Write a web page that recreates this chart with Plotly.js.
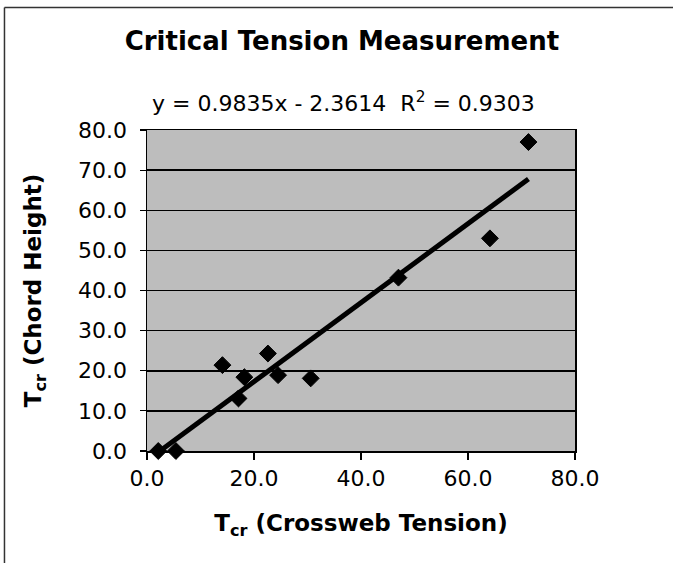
<!DOCTYPE html>
<html>
<head>
<meta charset="utf-8">
<script src="https://cdn.plot.ly/plotly-3.0.1.min.js"></script>
<style>
  html, body { margin: 0; padding: 0; background: #ffffff; }
  #chart { width: 673px; height: 563px; }
</style>
</head>
<body>
<div id="chart"></div>
<script>
// Data
const crosswebTension = [2.1, 5.4, 14.1, 17.1, 18.2, 22.6, 24.5, 30.6, 47.0, 64.1, 71.3];
const chordHeight     = [0.0, 0.0, 21.4, 13.1, 18.4, 24.3, 18.9, 18.1, 43.2, 53.0, 77.0];

// Trendline as printed on the chart
const slope = 0.9835;
const intercept = -2.3614;
const rSquared = 0.9303;

const xTickVals = [0, 20, 40, 60, 80];
const yTickVals = [0, 10, 20, 30, 40, 50, 60, 70, 80];

const xMin = Math.min(...crosswebTension);
const xMax = Math.max(...crosswebTension);
const trendX = [xMin, xMax];
const trendY = trendX.map(v => slope * v + intercept);

const textFont = "DejaVu Sans, Liberation Sans, Arial, sans-serif";

const traces = [
  {
    x: trendX, y: trendY,
    type: "scatter", mode: "lines",
    line: { color: "#000000", width: 5 },
    cliponaxis: false,
    hoverinfo: "skip", showlegend: false
  },
  {
    x: crosswebTension, y: chordHeight,
    type: "scatter", mode: "markers",
    marker: { symbol: "diamond", size: 13, color: "#000000",
              line: { color: "#000000", width: 1 } },
    cliponaxis: false,
    showlegend: false
  }
];

const layout = {
  width: 673, height: 563,
  margin: { l: 147, r: 98, t: 130, b: 112, pad: 0 },
  paper_bgcolor: "#ffffff",
  plot_bgcolor: "#bdbdbd",
  showlegend: false,
  font: { family: textFont, color: "#000000", size: 22 },
  title: {
    text: "<b>Critical Tension Measurement</b>",
    font: { family: textFont, size: 26, color: "#000000" },
    xref: "container", yref: "container",
    x: 0.508, xanchor: "center",
    y: 0.927, yanchor: "middle"
  },
  xaxis: {
    range: [0, 80],
    tickvals: xTickVals,
    tickformat: ".1f",
    ticks: "outside", ticklen: 7, tickwidth: 1.2, tickcolor: "#000000",
    ticklabelstandoff: 0,
    showgrid: false, zeroline: false,
    showline: true, linecolor: "#000000", linewidth: 1.5, mirror: true,
    tickfont: { family: textFont, size: 22, color: "#000000" },
    title: {
      text: "<b>T<sub>cr</sub> (Crossweb Tension)</b>",
      font: { family: textFont, size: 23, color: "#000000" },
      standoff: 25
    },
    automargin: false
  },
  yaxis: {
    range: [0, 80],
    tickvals: yTickVals,
    tickformat: ".1f",
    ticks: "outside", ticklen: 6, tickwidth: 1.2, tickcolor: "#000000",
    ticklabelstandoff: 8,
    showgrid: true, gridcolor: "#000000", gridwidth: 1.5,
    zeroline: false,
    showline: true, linecolor: "#000000", linewidth: 1.5, mirror: true,
    tickfont: { family: textFont, size: 22, color: "#000000" },
    title: {
      text: "<b>T<sub>cr</sub> (Chord Height)</b>",
      font: { family: textFont, size: 23, color: "#000000" },
      standoff: 30
    },
    automargin: false
  },
  annotations: [
    {
      text: "y = " + slope.toFixed(4) + "x - " + Math.abs(intercept).toFixed(4) +
            "\u00A0\u00A0R<sup>2</sup> = " + rSquared.toFixed(4),
      xref: "paper", yref: "paper",
      x: 0.460, y: 1.086,
      xanchor: "center", yanchor: "middle",
      showarrow: false,
      font: { family: textFont, size: 22, color: "#000000" }
    }
  ],
  shapes: [
    { type: "line", xref: "paper", yref: "paper",
      x0: -0.333, x1: -0.333, y0: 1.3816, y1: -0.36,
      line: { color: "#333333", width: 1.5 } },
    { type: "line", xref: "paper", yref: "paper",
      x0: -0.333, x1: 1.25, y0: 1.3816, y1: 1.3816,
      line: { color: "#333333", width: 1.5 } }
  ]
};

Plotly.newPlot("chart", traces, layout, { staticPlot: true, displayModeBar: false });
</script>
</body>
</html>
